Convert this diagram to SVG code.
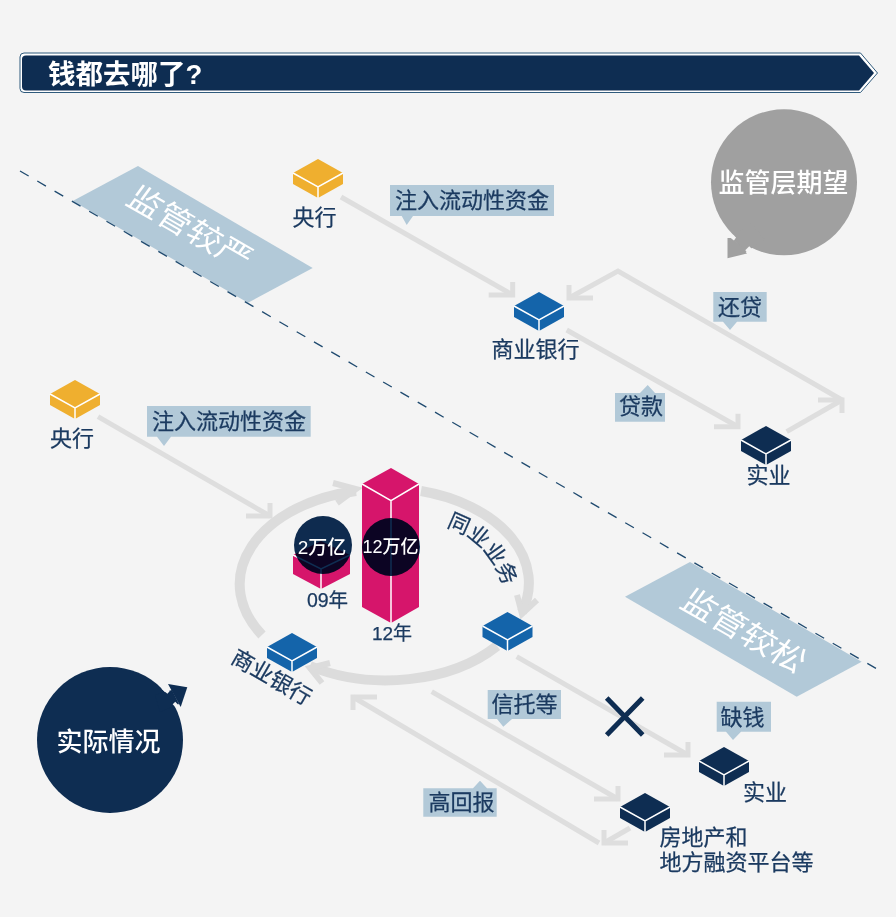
<svg xmlns="http://www.w3.org/2000/svg" width="896" height="917" viewBox="0 0 896 917">
  <style>
    text { font-family: "Noto Sans CJK SC", "Noto Sans", sans-serif; }
    .num { font-family: "Liberation Sans", "Noto Sans CJK SC", sans-serif; }
    .lbl { fill: #1b3a60; stroke: #1b3a60; stroke-width: 0.25; font-size: 22px; }
    .mid { text-anchor: middle; }
    .inv { fill: #ffffff; }
    .tag { fill: #b2c9d8; }
    .band { fill: #b2c9d8; }
    .line { fill: none; stroke: #dedede; stroke-width: 5; }
    .ring { fill: none; stroke: #dcdcdc; stroke-width: 10; }
    .head { fill: none; stroke: #dcdcdc; stroke-width: 6; }
    .seam { fill: none; stroke: #ffffff; stroke-width: 1.5; }
    .gold { fill: #efaf2f; }
    .blue { fill: #1464aa; }
    .navy { fill: #0e2d52; }
    .pink { fill: #d6156b; }
    .over { fill: #0e2d52; mix-blend-mode: multiply; }
    .notch { stroke: #f4f4f4; stroke-width: 3.500; fill: none; }
  </style>
  <defs>
    <g id="block">
      <path d="M0,0 L25,14 V25 L0,39 L-25,25 V14 Z"/>
      <path class="seam" d="M-25,14 L0,28 L25,14 M0,28 V39"/>
    </g>
    <marker id="to-se" markerUnits="userSpaceOnUse" orient="0" markerWidth="40" markerHeight="30" refX="30" refY="20" viewBox="0 0 40 30">
      <path d="M6,20 H30 V7" fill="none" stroke="#dedede" stroke-width="5"/>
    </marker>
    <marker id="to-ne" markerUnits="userSpaceOnUse" orient="0" markerWidth="40" markerHeight="30" refX="30" refY="10" viewBox="0 0 40 30">
      <path d="M6,10 H30 V23" fill="none" stroke="#dedede" stroke-width="5"/>
    </marker>
    <marker id="to-nw" markerUnits="userSpaceOnUse" orient="0" markerWidth="40" markerHeight="30" refX="10" refY="10" viewBox="0 0 40 30">
      <path d="M34,10 H10 V23" fill="none" stroke="#dedede" stroke-width="5"/>
    </marker>
    <marker id="to-sw" markerUnits="userSpaceOnUse" orient="0" markerWidth="40" markerHeight="30" refX="10" refY="20" viewBox="0 0 40 30">
      <path d="M34,20 H10 V7" fill="none" stroke="#dedede" stroke-width="5"/>
    </marker>
    <path id="arc-interbank" d="M446,527 Q490,540 506,594"/>
  </defs>

  <rect width="896" height="917" fill="#f4f4f4"/>

  <!-- title ribbon -->
  <g id="title">
    <path d="M24,53 H860.500 L877.500,73 L860.500,92.500 H24 Q20,92.500 20,88.500 V57 Q20,53 24,53 Z" fill="#ffffff" stroke="#2f5a7c" stroke-width="1"/>
    <path d="M26,55.500 H859 L874,73 L859,90.500 H26 Q22,90.500 22,86.500 V59 Q22,55.500 26,55.500 Z" fill="#0e2d52"/>
    <text class="num" x="48" y="84" font-size="27.500" font-weight="700" fill="#ffffff">钱都去哪了?</text>
  </g>

  <!-- regulatory divide -->
  <g id="bands">
    <polygon class="band" points="138,166 312.700,268 248,302.700 72.700,201"/>
    <polygon class="band" points="690,562 861.700,661.700 796.700,696.700 625,596.700"/>
    <line x1="20" y1="171" x2="877" y2="669" stroke="#1f4a6f" stroke-width="1.300" stroke-dasharray="10 10"/>
    <text class="inv mid" font-size="34" y="12" transform="matrix(0.87,0.5,-0.55,0.75,190,228)">监管较严</text>
    <text class="inv mid" font-size="34" y="12" transform="matrix(0.87,0.5,-0.55,0.75,744,631)">监管较松</text>
  </g>

  <g id="connectors">
    <path class="line" d="M341,197 L512.700,295" marker-end="url(#to-se)"/>
    <path class="line" d="M842,400 L618,271 L569,298" marker-end="url(#to-sw)"/>
    <path class="line" d="M566.700,330 L738,426.700" marker-end="url(#to-se)"/>
    <path class="line" d="M786.700,431.700 L842,400" marker-end="url(#to-ne)"/>
    <path class="line" d="M98,416.700 L270,516" marker-end="url(#to-se)"/>
    <path class="line" d="M516.700,656.700 L688,755" marker-end="url(#to-se)"/>
    <path class="line" d="M431.700,691.700 L618,799" marker-end="url(#to-se)"/>
    <path class="line" d="M599,843 L353,697" marker-end="url(#to-nw)"/>
    <path class="line" d="M630,828 L604,843" marker-end="url(#to-sw)"/>
    <path class="ring" d="M262,635 A144,95 0 0 1 356,491"/>
    <path class="ring" d="M421,491 A144,95 0 0 1 522,612"/>
    <path class="ring" d="M497,646 A144,95 0 0 1 310,666"/>
    <path class="head" d="M333,483 L356,489 L337,503"/>
    <path class="head" d="M517,595 L522,614 L537,600"/>
    <path class="head" d="M330,663 L310,668 L322,683"/>
  </g>

  <g id="blocked">
    <path d="M606.700,698 L642.700,735 M642.700,698 L606.700,735" stroke="#0e2d52" stroke-width="5" fill="none"/>
  </g>

  <!-- central bank, commercial bank and economy blocks -->
  <g id="pboc-top">
    <use href="#block" class="gold" x="318" y="159"/>
    <text class="lbl" x="292.500" y="225">央行</text>
  </g>
  <g id="bank-top">
    <use href="#block" class="blue" x="539" y="292"/>
    <text class="lbl" x="491.500" y="357">商业银行</text>
  </g>
  <g id="economy-top">
    <use href="#block" class="navy" x="766" y="426"/>
    <text class="lbl" x="746.500" y="483">实业</text>
  </g>
  <g id="pboc-low">
    <use href="#block" class="gold" x="75" y="380"/>
    <text class="lbl" x="50" y="446">央行</text>
  </g>
  <g id="bank-low">
    <use href="#block" class="blue" x="292" y="633"/>
    <text class="lbl mid" transform="translate(271.700,677) rotate(30)" y="8">商业银行</text>
  </g>
  <g id="interbank">
    <use href="#block" class="blue" x="507.500" y="612"/>
    <text class="lbl" style="font-size:21.500px"><textPath href="#arc-interbank">同业业务</textPath></text>
  </g>
  <g id="economy-low">
    <use href="#block" class="navy" x="724" y="747"/>
    <text class="lbl" x="743" y="800">实业</text>
  </g>
  <g id="property">
    <use href="#block" class="navy" x="645" y="793"/>
    <text class="lbl"><tspan x="659.500" y="844.500">房地产和</tspan><tspan x="659.500" y="870">地方融资平台等</tspan></text>
  </g>

  <!-- balance columns -->
  <g id="bar-2009">
    <path class="pink" d="M321,541 L350,555 V574 L321,589 L293,574 V555 Z"/>
    <path class="seam" d="M293,555 L321,569 L350,555 M321,569 V589"/>
    <circle class="over" cx="323" cy="545" r="29"/>
    <text class="inv mid num" x="322" y="554" font-size="19" font-weight="500">2万亿</text>
    <text class="lbl mid num" x="327.500" y="607" style="font-size:19.500px">09年</text>
  </g>
  <g id="bar-2012">
    <path class="pink" d="M391,468 L419,484 V607 L391,623 L362,607 V484 Z"/>
    <path class="seam" d="M362,484 L391,500.700 L419,484 M391,500.700 V623"/>
    <circle class="over" cx="391" cy="547" r="29"/>
    <text class="inv mid num" x="390.500" y="553" font-size="18" font-weight="500">12万亿</text>
    <text class="lbl mid num" x="392" y="640" style="font-size:19px">12年</text>
  </g>

  <!-- callout tags -->
  <g id="tag-inject-top">
    <path class="tag" d="M390,185 H554 V216 H413 L406.700,225 L401.700,216 H390 Z"/>
    <text class="lbl" x="395" y="208">注入流动性资金</text>
  </g>
  <g id="tag-repay">
    <path class="tag" d="M713.300,292 H766.700 V321.700 H737 L730,330 L723,321.700 H713.300 Z"/>
    <text class="lbl" x="718" y="315">还贷</text>
  </g>
  <g id="tag-loan">
    <path class="tag" d="M615,393 H640 L647.700,385 L655,393 H665 V421.700 H615 Z"/>
    <text class="lbl" x="619" y="414">贷款</text>
  </g>
  <g id="tag-inject-low">
    <path class="tag" d="M147,406 H310.700 V436.700 H171 L164,446 L157,436.700 H147 Z"/>
    <text class="lbl" x="152" y="429">注入流动性资金</text>
  </g>
  <g id="tag-trust">
    <path class="tag" d="M487.700,690 H561 V719 H512 L503.300,726.700 L497,719 H487.700 Z"/>
    <text class="lbl" x="491.500" y="712">信托等</text>
  </g>
  <g id="tag-short">
    <path class="tag" d="M716.700,701.700 H771 V731.700 H741 L733,740 L726,731.700 H716.700 Z"/>
    <text class="lbl" x="720.500" y="725">缺钱</text>
  </g>
  <g id="tag-return">
    <path class="tag" d="M423.300,788.300 H473 L480,780.700 L487,788.300 H496.700 V816.700 H423.300 Z"/>
    <text class="lbl" x="428.500" y="810">高回报</text>
  </g>

  <!-- speech circles -->
  <g id="expectation">
    <circle cx="784" cy="182.300" r="73" fill="#a0a0a0"/>
    <polygon points="733,238 744,253 765,240 750,222" fill="#a0a0a0"/>
    <polygon points="727.500,238 727.500,258.300 747,253.500 733,238" fill="#a0a0a0"/>
    <path class="notch" d="M728,233.500 L735,239"/>
    <path class="notch" d="M746.500,251.500 L750.500,247.500"/>
    <text class="inv mid" x="783.500" y="192" font-size="26" font-weight="500">监管层期望</text>
  </g>
  <g id="actual">
    <circle cx="110" cy="740" r="73" fill="#0e2d52"/>
    <polygon points="172,690 179,704 160,712 155,695" fill="#0e2d52"/>
    <polygon points="187.300,687.300 168,684 180.700,707" fill="#0e2d52"/>
    <path class="notch" d="M162.500,687.500 L168.500,692.500"/>
    <path class="notch" d="M174,703 L179.500,709"/>
    <text class="inv mid" x="108.500" y="751" font-size="26" font-weight="500">实际情况</text>
  </g>
</svg>
